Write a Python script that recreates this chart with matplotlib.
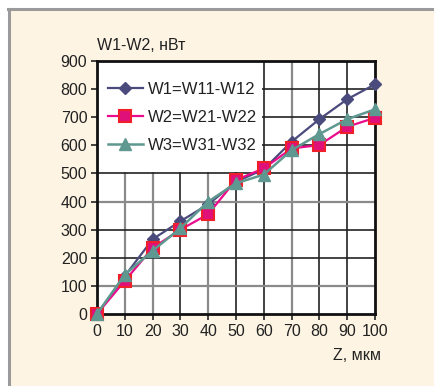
import matplotlib
matplotlib.use("Agg")
import matplotlib.pyplot as plt
from matplotlib.patches import Rectangle
from matplotlib.lines import Line2D

z = [0, 10, 20, 30, 40, 50, 60, 70, 80, 90, 100]
w1 = [0, 135, 266, 330, 390, 470, 515, 613, 693, 764, 817]
w2 = [0, 118, 235, 300, 355, 477, 518, 589, 601, 666, 698]
w3 = [0, 140, 225, 305, 400, 465, 496, 583, 640, 693, 728]
labels = ["W1=W11-W12", "W2=W21-W22", "W3=W31-W32"]
xticks = [0, 10, 20, 30, 40, 50, 60, 70, 80, 90, 100]
yticks = [0, 100, 200, 300, 400, 500, 600, 700, 800, 900]

plt.rcParams['font.family'] = ['Liberation Sans', 'DejaVu Sans']

W, H = 435, 386
fig = plt.figure(figsize=(W / 100, H / 100), dpi=100)
fig.patch.set_facecolor('white')
cream = '#fdf4e3'
fig.patches.append(Rectangle((9 / W, 0), 1, 1 - 9 / H, transform=fig.transFigure,
                             facecolor=cream, edgecolor='none', zorder=-10))
fig.add_artist(Line2D([8 / W, 1], [1 - 9 / H, 1 - 9 / H], color='#9a9a9a', lw=2.2))
fig.add_artist(Line2D([9 / W, 9 / W], [0, 1 - 9 / H], color='#9a9a9a', lw=2.2))

ax = fig.add_axes([97 / W, 1 - 314 / H, (375 - 97) / W, (314 - 61) / H])
ax.set_facecolor('white')
ax.set_xlim(0, 100)
ax.set_ylim(0, 900)

gray_x = {10, 20, 40, 70}
for xv in xticks[1:-1]:
    ax.axvline(xv, color='#8a8a8a' if xv in gray_x else '#222222',
               lw=1.6 if xv in gray_x else 1.2, zorder=1)
gray_y = {100, 400}
for yv in yticks[1:-1]:
    ax.axhline(yv, color='#8a8a8a' if yv in gray_y else '#222222',
               lw=1.6 if yv in gray_y else 1.2, zorder=1)

# white legend area
ax.add_patch(Rectangle((0, (314 - 172) / 253), (262 - 97) / 278, 1 - (314 - 172) / 253,
                       transform=ax.transAxes, facecolor='white', edgecolor='none',
                       zorder=2))

for s in ax.spines.values():
    s.set_color('#111111')
    s.set_linewidth(2)

l1, = ax.plot(z, w1, color='#4b4a7c', lw=1.6, marker='D', ms=6,
              mfc='#4b4a7c', mec='#4b4a7c', zorder=5, clip_on=False)
l3, = ax.plot(z, w3, color='#5f9890', lw=1.8, marker='^', ms=9,
              mfc='#5f9890', mec='#5f9890', zorder=6, clip_on=False)
l2, = ax.plot(z, w2, color='#ec0a8c', lw=1.6, marker='s', ms=8.5,
              mfc='#e0107a', mec='#f0202a', mew=1.5, zorder=5, clip_on=False)

ax.set_xticks(xticks)
ax.set_yticks(yticks)
ax.tick_params(axis='both', direction='out', length=4, width=1.2, color='#222222',
               labelsize=11.5, labelcolor='#222222', pad=3)

leg = ax.legend([l1, l2, l3], labels, loc='center left',
                bbox_to_anchor=((108 - 97) / 278, (314 - 117.5) / 253),
                frameon=False, fontsize=12, handlelength=2.1, handletextpad=0.3,
                labelspacing=0.8, borderpad=0.0, borderaxespad=0.0)
leg.set_zorder(10)
for t in leg.get_texts():
    t.set_color('#222222')

fig.text(97 / W, 1 - 45 / H, "W1-W2, нВт", fontsize=11.5, color='#222222',
         ha='left', va='center')
fig.text(381 / W, 1 - 355 / H, "Z, мкм", fontsize=11.5, color='#222222',
         ha='right', va='center')

fig.savefig('out.png', dpi=100, facecolor=fig.get_facecolor())
